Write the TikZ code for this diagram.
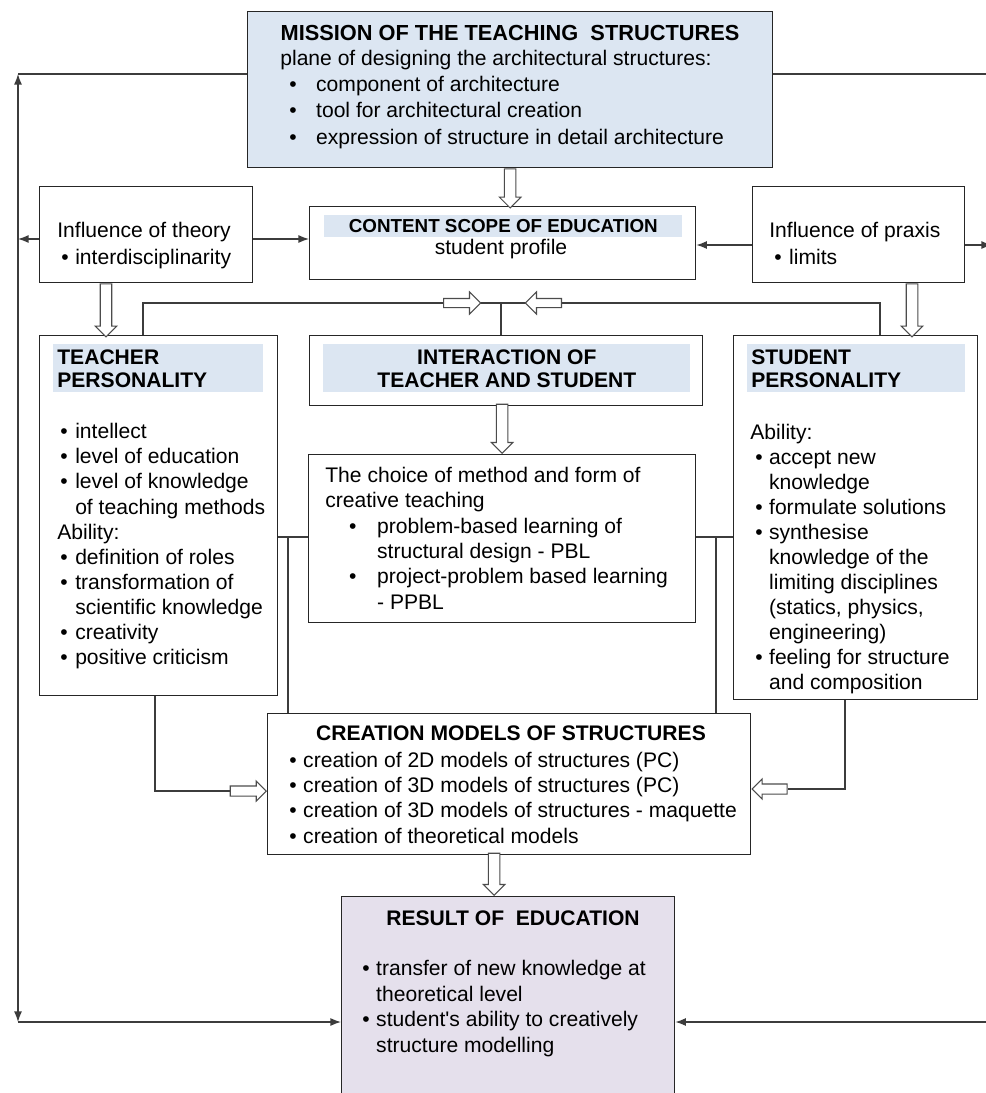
\documentclass[tikz,border=0pt]{standalone}
\usepackage{fontspec}
\setmainfont{Liberation Sans}
\usepackage{tikz}
\usetikzlibrary{shapes.arrows, arrows.meta, calc}
\definecolor{headblue}{RGB}{220, 230, 242}
\definecolor{resultlilac}{RGB}{229, 224, 236}
\definecolor{linegray}{RGB}{60, 60, 60}
\newcommand{\itm}[2]{\hspace*{#1}\makebox[#2][l]{\textbullet}}

\tikzset{
  box/.style={draw=black!85, line width=0.8pt, anchor=north west, inner sep=0pt},
  band/.style={fill=headblue, anchor=north west, inner sep=0pt, font=\bfseries\fontsize{12}{13}\selectfont},
  txt/.style={anchor=north west, inner sep=0pt, align=left},
  hollow/.style={single arrow, draw=black!70, fill=white, line width=0.6pt, inner xsep=0pt,
    inner ysep=0.105cm, single arrow head extend=0.1cm},
  small hollow/.style={hollow, inner ysep=0.09cm, single arrow head extend=0.1cm}
  ,conn/.style={draw=linegray, line width=0.7pt}
}

\begin{document}
\begin{tikzpicture}[x=0.02cm, y=-0.02cm, font=\fontsize{12}{14.3}\selectfont,
  >={Latex[length=6pt, width=4.5pt]}]
\useasboundingbox (0,0) rectangle (986,1093);
\fill[white] (0,0) rectangle (986,1093);
\clip (0,0) rectangle (986,1093);

% boxes
\node[box, fill=headblue, minimum width=10.5cm, minimum height=3.12cm] (mission) at (247,11) {};
\node[box, minimum width=4.26cm, minimum height=1.92cm] (theory) at (39,186) {};
\node[box, minimum width=7.72cm, minimum height=1.46cm] (content) at (309,206) {};
\node[box, minimum width=4.24cm, minimum height=1.92cm] (praxis) at (752,186) {};
\node[box, minimum width=4.76cm, minimum height=7.2cm] (teacher) at (39,335) {};
\node[box, minimum width=7.86cm, minimum height=1.4cm] (interact) at (309,335) {};
\node[box, minimum width=7.74cm, minimum height=3.36cm] (choice) at (308,454) {};
\node[box, minimum width=4.88cm, minimum height=7.28cm] (student) at (733,335) {};
\node[box, minimum width=9.66cm, minimum height=2.82cm] (creation) at (267,713) {};
\node[box, fill=resultlilac, minimum width=6.66cm, minimum height=4.6cm] (result) at (341,896) {};

% texts
\node[font=\bfseries\fontsize{12.4}{14}\selectfont] (missionhead) at (510,33) {MISSION OF THE TEACHING~ STRUCTURES};
\node[txt, font=\fontsize{12}{14.9}\selectfont] (missiontxt) at (280,50) {plane of designing the architectural structures:\\
  \itm{5.1pt}{15.3pt}component of architecture\\
  \itm{5.1pt}{15.3pt}tool for architectural creation\\
  \itm{5.1pt}{15.3pt}expression of structure in detail architecture};

\node[band, minimum width=7.16cm, minimum height=0.44cm, font=\bfseries\fontsize{10.7}{12}\selectfont] (contenthead) at (324,215) {CONTENT SCOPE OF EDUCATION};
\node (contenttxt) at (501,249) {student profile};

\node[txt, font=\fontsize{12}{15.3}\selectfont] (theorytxt) at (57,222) {Influence of theory\\
  \itm{2.3pt}{7.9pt}interdisciplinarity};
\node[txt, font=\fontsize{12}{15.3}\selectfont] (praxistxt) at (769,222) {Influence of praxis\\
  \itm{2.8pt}{8.5pt}limits};

\node[band, text width=4.04cm, inner xsep=0.08cm, minimum height=0.96cm, align=left] (teacherhead) at (53,344) {TEACHER\\PERSONALITY};
\node[txt] (teachertxt) at (57,423) {\itm{1.7pt}{8.5pt}intellect\\
  \itm{1.7pt}{8.5pt}level of education\\
  \itm{1.7pt}{8.5pt}level of knowledge\\
  \hspace*{10.2pt}of teaching methods\\
  Ability:\\
  \itm{1.7pt}{8.5pt}definition of roles\\
  \itm{1.7pt}{8.5pt}transformation of\\
  \hspace*{10.2pt}scientific knowledge\\
  \itm{1.7pt}{8.5pt}creativity\\
  \itm{1.7pt}{8.5pt}positive criticism};

\node[band, minimum width=7.34cm, minimum height=0.96cm, align=center] (interacthead) at (323,344) {INTERACTION OF\\TEACHER AND STUDENT};

\node[txt, font=\fontsize{12}{14.4}\selectfont] (choicetxt) at (325,467) {The choice of method and form of\\
  creative teaching\\
  \itm{13.6pt}{15.9pt}problem-based learning of\\
  \hspace*{29.5pt}structural design - PBL\\
  \itm{13.6pt}{15.9pt}project-problem based learning\\
  \hspace*{29.5pt}- PPBL};

\node[band, text width=4.2cm, inner xsep=0.08cm, minimum height=0.96cm, align=left] (studenthead) at (747,344) {STUDENT\\PERSONALITY};
\node[txt, font=\fontsize{12}{14.2}\selectfont] (studenttxt) at (750,424) {Ability:\\
  \itm{2.8pt}{7.9pt}accept new\\
  \hspace*{10.7pt}knowledge\\
  \itm{2.8pt}{7.9pt}formulate solutions\\
  \itm{2.8pt}{7.9pt}synthesise\\
  \hspace*{10.7pt}knowledge of the\\
  \hspace*{10.7pt}limiting disciplines\\
  \hspace*{10.7pt}(statics, physics,\\
  \hspace*{10.7pt}engineering)\\
  \itm{2.8pt}{7.9pt}feeling for structure\\
  \hspace*{10.7pt}and composition};

\node[font=\bfseries\fontsize{12}{14}\selectfont] (creationhead) at (511,733) {CREATION MODELS OF STRUCTURES};
\node[txt] (creationtxt) at (289,752) {\itm{0pt}{7.9pt}creation of 2D models of structures (PC)\\
  \itm{0pt}{7.9pt}creation of 3D models of structures (PC)\\
  \itm{0pt}{7.9pt}creation of 3D models of structures - maquette\\
  \itm{0pt}{7.9pt}creation of theoretical models};

\node[font=\bfseries\fontsize{12}{14}\selectfont] (resulthead) at (513,918) {RESULT OF~ EDUCATION};
\node[txt, font=\fontsize{12}{14.6}\selectfont] (resulttxt) at (362,960) {\itm{0pt}{7.9pt}transfer of new knowledge at\\
  \hspace*{7.9pt}theoretical level\\
  \itm{0pt}{7.9pt}student\textquotesingle s ability to creatively\\
  \hspace*{7.9pt}structure modelling};

% outer loop
\coordinate (ltop) at (18,74);
\coordinate (lbot) at (18,1022);
\coordinate (rtop) at (992,74);
\coordinate (rbot) at (992,1022);
\coordinate (ltheory) at (18,239);
\coordinate (rpraxis) at (992,245);
\draw[conn] (mission.west |- ltop) -- (ltop);
\draw[conn] (mission.east |- rtop) -- (rtop);
\draw[conn, <->] (ltop) -- (lbot);
\draw[conn, <->] (rtop) -- (rbot);
\draw[conn, ->] (theory.west |- ltheory) -- (ltheory);
\draw[conn, ->] (theory.east |- ltheory) -- (content.west |- ltheory);
\draw[conn, ->] (praxis.west |- rpraxis) -- (content.east |- rpraxis);
\draw[conn, ->] (praxis.east |- rpraxis) -- (rpraxis);
\draw[conn, ->] (lbot) -- (result.west |- lbot);
\draw[conn, ->] (rbot) -- (result.east |- rbot);

% inner connectors
\coordinate (tl) at (143,303);
\coordinate (tm) at (501,303);
\coordinate (tr) at (880,303);
\coordinate (jl) at (288,537);
\coordinate (jr) at (716,537);
\coordinate (bl) at (155,791);
\coordinate (br) at (845,789);
\draw[conn] (teacher.north -| tl) -- (tl) -- (tr) -- (student.north -| tr);
\draw[conn] (tm) -- (interact.north -| tm);
\draw[conn] (teacher.east |- jl) -- (choice.west |- jl);
\draw[conn] (jl) -- (creation.north -| jl);
\draw[conn] (choice.east |- jr) -- (student.west |- jr);
\draw[conn] (jr) -- (creation.north -| jr);

\node[small hollow, inner ysep=0.08cm, single arrow head extend=0.13cm, minimum height=0.74cm, anchor=tail] (ah1) at (443,303) {};
\node[small hollow, inner ysep=0.08cm, single arrow head extend=0.13cm, minimum height=0.72cm, anchor=tail, rotate=180] (ah2) at (562,303) {};
\node[small hollow, minimum height=0.72cm, anchor=tip] (ah3) at (creation.west |- bl) {};
\node[small hollow, minimum height=0.7cm, anchor=tip, rotate=180] (ah4) at (creation.east |- br) {};
\draw[conn] (teacher.south -| bl) -- (bl) -- (ah3.tail);
\draw[conn] (student.south -| br) -- (br) -- (ah4.tail);

\node[hollow, minimum height=0.78cm, rotate=-90, anchor=tail] (ah5) at (mission.south) {};
\node[hollow, minimum height=1.06cm, rotate=-90, anchor=tail] (ah6) at ([shift={(67,0)}]theory.south west) {};
\node[hollow, minimum height=1.06cm, rotate=-90, anchor=tail] (ah7) at ([shift={(160,0)}]praxis.south west) {};
\node[hollow, minimum height=0.98cm, rotate=-90, anchor=tip] (ah8) at (choice.north) {};
\node[hollow, minimum height=0.84cm, rotate=-90, anchor=tip] (ah9) at ([shift={(-14,0)}]result.north) {};
\end{tikzpicture}
\end{document}
